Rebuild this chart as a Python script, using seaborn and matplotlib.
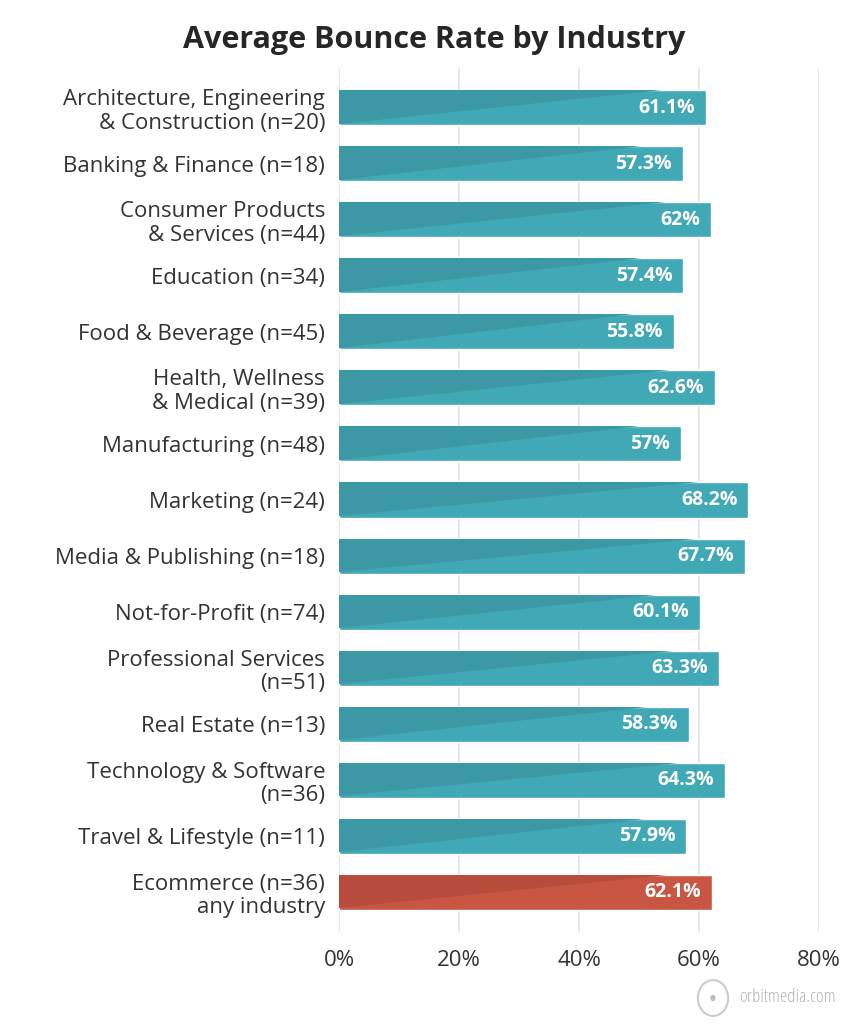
import matplotlib
matplotlib.use("Agg")
import matplotlib.pyplot as plt
import seaborn as sns
import pandas as pd
from matplotlib.patches import Polygon, Circle

industries = [
    "Architecture, Engineering\n& Construction (n=20)",
    "Banking & Finance (n=18)",
    "Consumer Products\n& Services (n=44)",
    "Education (n=34)",
    "Food & Beverage (n=45)",
    "Health, Wellness\n& Medical (n=39)",
    "Manufacturing (n=48)",
    "Marketing (n=24)",
    "Media & Publishing (n=18)",
    "Not-for-Profit (n=74)",
    "Professional Services\n(n=51)",
    "Real Estate (n=13)",
    "Technology & Software\n(n=36)",
    "Travel & Lifestyle (n=11)",
    "Ecommerce (n=36)\nany industry",
]
bounce_rate = [61.1, 57.3, 62, 57.4, 55.8, 62.6, 57, 68.2, 67.7, 60.1, 63.3, 58.3, 64.3, 57.9, 62.1]
value_labels = ["61.1%", "57.3%", "62%", "57.4%", "55.8%", "62.6%", "57%", "68.2%", "67.7%",
                "60.1%", "63.3%", "58.3%", "64.3%", "57.9%", "62.1%"]
group = ["industry"] * 14 + ["ecommerce"]
x_ticks = [0, 20, 40, 60, 80]
x_tick_labels = ["0%", "20%", "40%", "60%", "80%"]

light = {"industry": "#41a8b5", "ecommerce": "#c95543"}
dark = {"industry": "#3b98a4", "ecommerce": "#b84c3c"}

df = pd.DataFrame({"industry": industries, "rate": bounce_rate, "group": group})

sns.set_theme(style="white")
FONT = ["Open Sans", "DejaVu Sans"]
plt.rcParams["font.family"] = FONT

fig = plt.figure(figsize=(8.64, 10.24), dpi=100)
ax = fig.add_axes([339 / 864, 1 - 932 / 1024, 480 / 864, (932 - 68) / 1024])

sns.barplot(data=df, y="industry", x="rate", hue="group", palette=light, dodge=False,
            width=0.625, legend=False, ax=ax, zorder=3, saturation=1)

# darker diagonal shade on each bar, derived from bar geometry
patches = [p for p in ax.patches if p.get_width() > 0]
patches.sort(key=lambda p: p.get_y())
for p, g, lab in zip(patches, group, value_labels):
    x0, y0 = p.get_x(), p.get_y()
    w, h = p.get_width(), p.get_height()
    # y axis inverted: y0 is top of bar visually
    tri = Polygon([(x0, y0 + h * 0.95), (x0, y0), (x0 + 0.88 * w, y0)], closed=True,
                  facecolor=dark[g], edgecolor="none", zorder=4)
    ax.add_patch(tri)
    ax.text(x0 + w - 1.8, y0 + h / 2, lab, ha="right", va="center", color="white",
            fontsize=14, fontweight="bold", zorder=5)

ax.set_xlim(0, 80)
ax.set_ylim(len(industries) - 1 + 0.714, -0.714)
ax.set_xticks(x_ticks)
ax.set_xticklabels(x_tick_labels, fontsize=16, color="#333333")
ax.tick_params(axis="y", labelsize=16, labelcolor="#333333", length=0, pad=10)
ax.tick_params(axis="x", length=0, pad=13)
for t in ax.get_yticklabels():
    t.set_multialignment("right")
    t.set_linespacing(1.15)
ax.set_xlabel("")
ax.set_ylabel("")
for s in ax.spines.values():
    s.set_visible(False)
ax.grid(axis="x", color="#e3e3e3", linewidth=1.2, zorder=0)
ax.set_axisbelow(True)

fig.text(434 / 864, 1 - 40 / 1024, "Average Bounce Rate by Industry", ha="center", va="center",
         fontsize=22, fontweight="bold", color="#262626")

# watermark
fig.text(739 / 864, 1 - 997 / 1024, "orbitmedia.com", ha="left", va="center",
         fontsize=13.5, color="#b5b5b5", fontstretch="condensed")
circ = Circle((713 / 864, 1 - 998 / 1024), 0.0175, transform=fig.transFigure,
              facecolor="none", edgecolor="#cccccc", linewidth=1.5)
fig.patches.append(circ)
dot = Circle((713 / 864, 1 - 998 / 1024), 0.003, transform=fig.transFigure,
             facecolor="#bbbbbb", edgecolor="none")
fig.patches.append(dot)

fig.savefig("out.png", dpi=100, facecolor="white")
